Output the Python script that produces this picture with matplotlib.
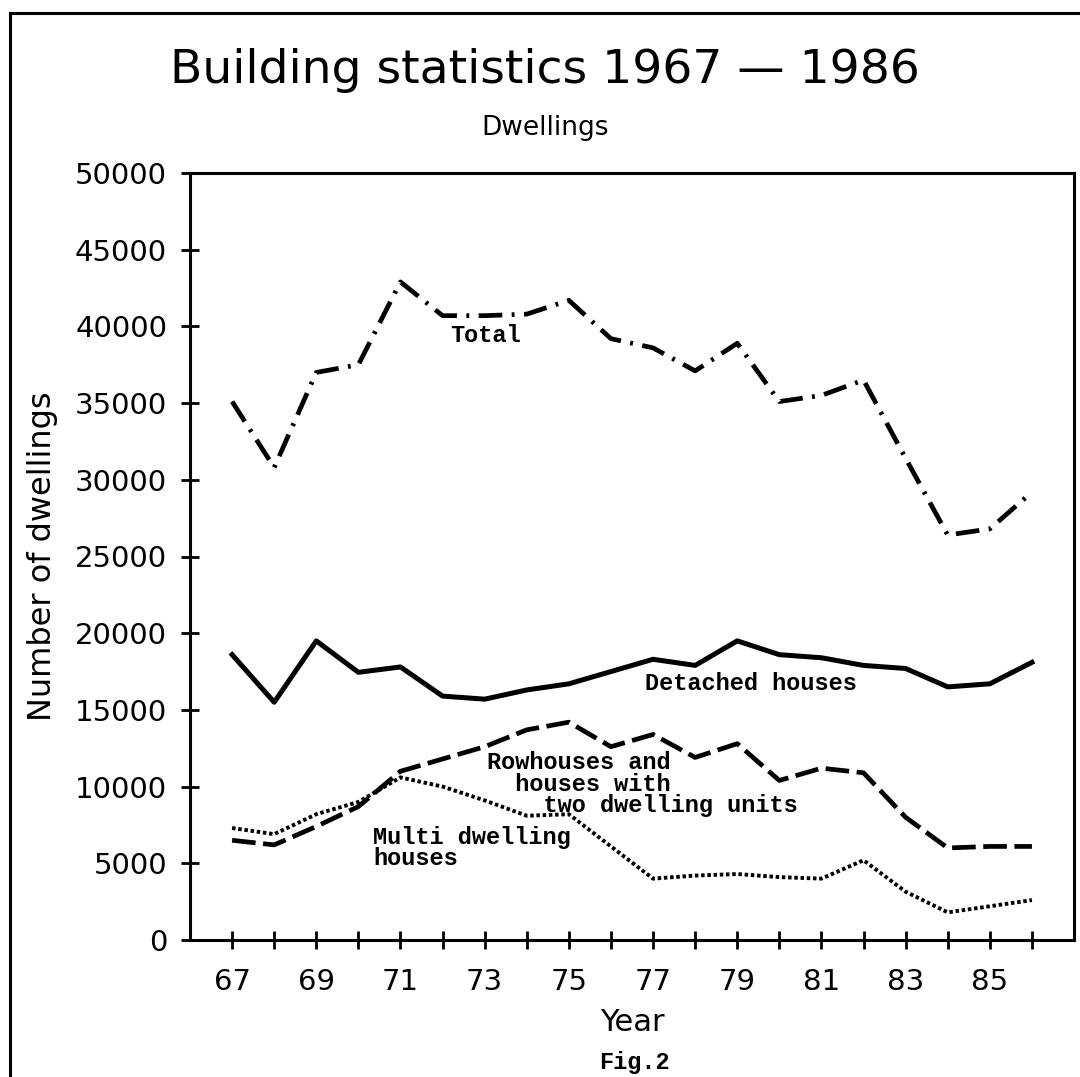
import matplotlib
matplotlib.use("Agg")
import matplotlib.pyplot as plt
from matplotlib.lines import Line2D

years = [67, 68, 69, 70, 71, 72, 73, 74, 75, 76, 77, 78, 79, 80, 81, 82, 83, 84, 85, 86]
total = [35100, 30800, 37000, 37500, 42900, 40700, 40700, 40800, 41700, 39200,
         38600, 37100, 38900, 35100, 35500, 36500, 31400, 26400, 26800, 29200]
detached = [18600, 15500, 19500, 17450, 17800, 15900, 15700, 16300, 16700, 17500,
            18300, 17900, 19500, 18600, 18400, 17900, 17700, 16500, 16700, 18100]
rowhouses = [6500, 6200, 7400, 8700, 11000, 11800, 12600, 13700, 14200, 12600,
             13400, 11900, 12800, 10400, 11200, 10900, 8000, 6000, 6100, 6100]
multi = [7300, 6900, 8200, 9000, 10600, 10000, 9100, 8100, 8200, 6100,
         4000, 4200, 4300, 4100, 4000, 5200, 3150, 1800, 2200, 2600]

yticks = [0, 5000, 10000, 15000, 20000, 25000, 30000, 35000, 40000, 45000, 50000]
xtick_labels = [67, 69, 71, 73, 75, 77, 79, 81, 83, 85]

sans = 'DejaVu Sans'
mono = ['Liberation Mono', 'DejaVu Sans Mono']

fig = plt.figure(figsize=(10.8, 10.77), dpi=100)
ax = fig.add_axes([190/1080, 1-940/1077, (1074-190)/1080, (940-173)/1077])

ax.plot(years, total, color='black', lw=3.4, linestyle=(0, (5, 2, 0.6, 2)))
ax.plot(years, detached, color='black', lw=3.6)
ax.plot(years, rowhouses, color='black', lw=3.4, linestyle=(0, (5, 1.6)))
ax.plot(years, multi, color='black', lw=2.8, linestyle=(0, (0.9, 0.7)))

ax.set_xlim(66, 87)
ax.set_ylim(0, 50000)
ax.set_yticks(yticks)
ax.set_yticklabels([str(v) for v in yticks], fontsize=21, family=sans)
ax.set_xticks(years)
ax.set_xticklabels([str(y) if y in xtick_labels else '' for y in years], fontsize=21, family=sans)
ax.tick_params(axis='both', direction='inout', length=13, width=2, color='black')
ax.tick_params(axis='y', pad=10)
ax.tick_params(axis='x', pad=14)
for s in ax.spines.values():
    s.set_linewidth(2.2)

ax.set_xlabel('Year', fontsize=22, family=sans, labelpad=8)
ax.yaxis.set_label_coords(-(190-43)/884, (940-566)/767)
ax.set_ylabel('Number of dwellings', fontsize=23, family=sans, va='center')

tk = dict(family=mono, fontweight='bold', fontsize=17, color='black', va='top', ha='left',
          linespacing=0.9)

ax.text(73.03, 40150, 'Total', **dict(tk, ha='center'))
ax.text(76.81, 17470, 'Detached houses', **tk)
ax.text(73.05, 12300, 'Rowhouses and\n  houses with\n    two dwelling units', **tk)
ax.text(70.35, 7420, 'Multi dwelling\nhouses', **tk)

fig.text(545/1080, 1-70/1077, 'Building statistics 1967 \u2014 1986', ha='center', va='center', fontsize=34, family=sans)
fig.text(545/1080, 1-128/1077, 'Dwellings', ha='center', va='center', fontsize=19, family=sans)
fig.text(634/1080, 1-1063/1077, 'Fig.2', ha='center', va='center', fontsize=17, family=mono, fontweight='bold')

fig.add_artist(Line2D([10/1080, 10/1080], [0, 1-13/1077], transform=fig.transFigure, color='black', lw=2.2))
fig.add_artist(Line2D([10/1080, 1], [1-13/1077, 1-13/1077], transform=fig.transFigure, color='black', lw=2.2))

fig.savefig('out.png', dpi=100)
